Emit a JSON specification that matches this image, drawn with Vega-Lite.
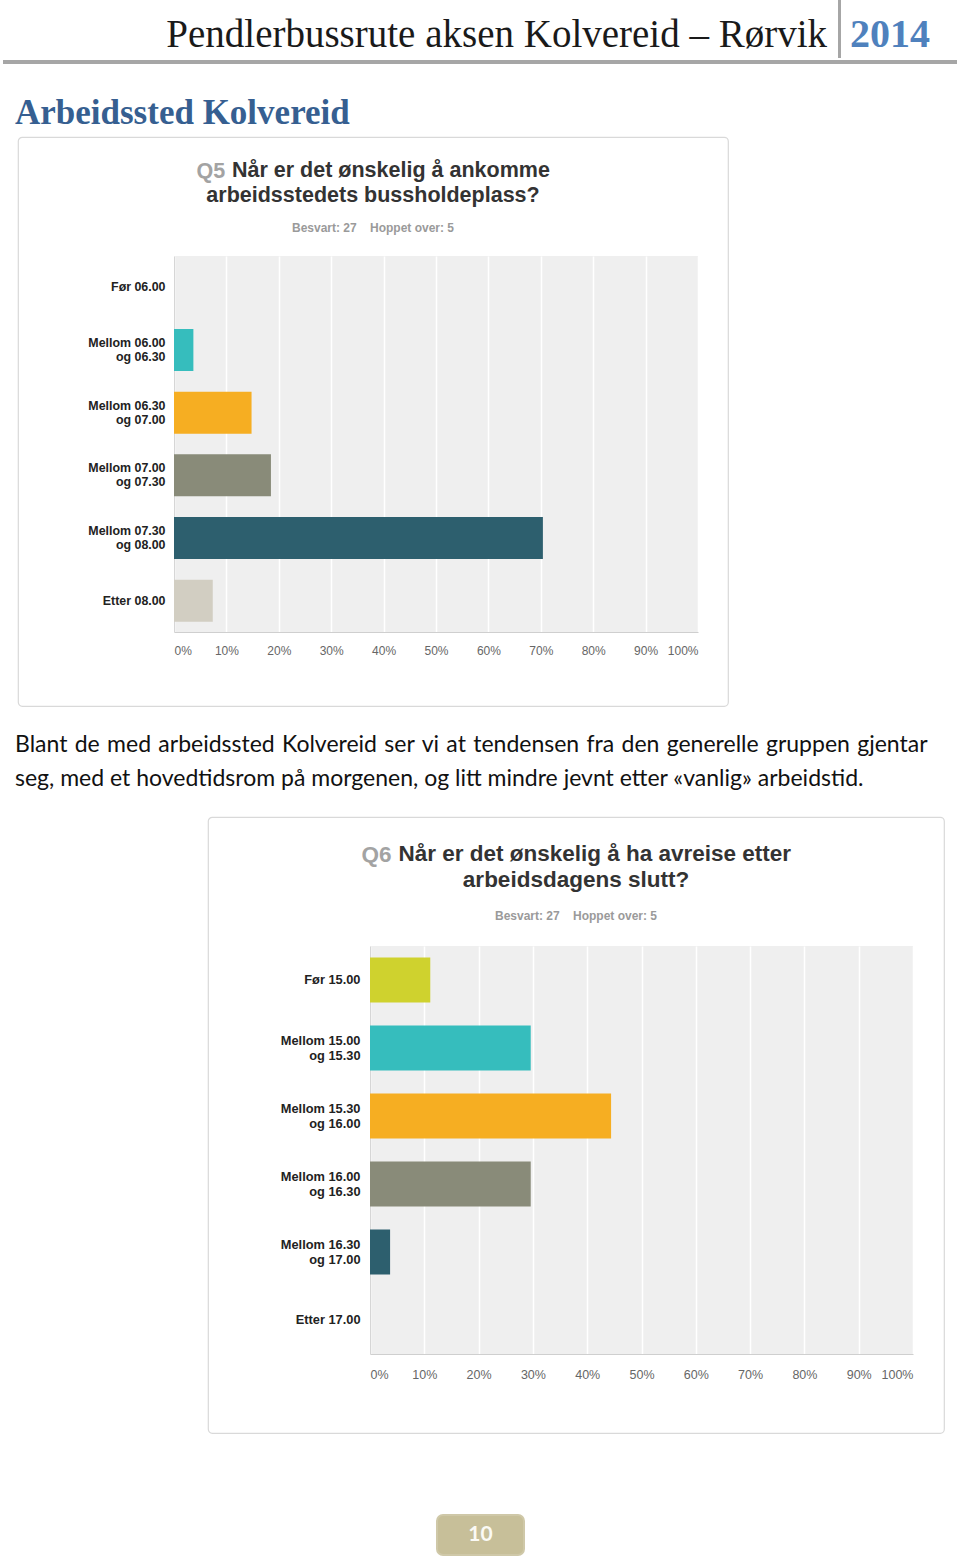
{
  "$schema": "https://vega.github.io/schema/vega-lite/v6.json",
  "background": "white",
  "padding": 0,
  "config": {"view": {"stroke": null}},
  "spacing": 0,
  "bounds": "flush",
  "vconcat": [
    {
      "bounds": "flush", "spacing": 0,
      "hconcat": [
        {
          "width": 838, "height": 60, "data": {"values": []}, "mark": "text",
          "title": {"text": "Pendlerbussrute aksen Kolvereid – Rørvik", "anchor": "end", "frame": "group", "dx": -11, "offset": -55, "font": "Liberation Serif", "fontSize": 39, "fontWeight": "normal", "color": "#1a1a1a"}
        },
        {
          "width": 3, "height": 58, "view": {"fill": "#a6a6a6", "stroke": null}, "data": {"values": []}, "mark": "text",
          "title": {"text": "2014", "anchor": "start", "frame": "group", "dx": 12, "offset": -55, "font": "Liberation Serif", "fontSize": 40, "fontWeight": "bold", "color": "#4f81bd"}
        }
      ]
    },
    {"width": 1, "height": 60, "data": {"values": []}, "mark": "text"},
    {
      "bounds": "flush", "spacing": 0,
      "hconcat": [
        {"width": 3, "height": 4, "data": {"values": []}, "mark": "text"},
        {"width": 954, "height": 4, "view": {"fill": "#a6a6a6", "stroke": null}, "data": {"values": []}, "mark": "text"}
      ]
    },
    {"width": 1, "height": 4, "data": {"values": []}, "mark": "text"},
    {
      "width": 1, "height": 73, "data": {"values": []}, "mark": "text",
      "title": {"text": "Arbeidssted Kolvereid", "anchor": "start", "frame": "group", "dx": 15, "offset": -67, "font": "Liberation Serif", "fontSize": 35, "fontWeight": "bold", "color": "#365f91"}
    },
    {
      "bounds": "flush", "spacing": 0,
      "hconcat": [
        {"width": 18, "height": 569, "data": {"values": []}, "mark": "text"},
        {
          "width": 710, "height": 569,
          "view": {"fill": "#ffffff", "stroke": "#d9d9d9", "strokeWidth": 1.2, "cornerRadius": 4},
          "data": {"values": []}, "mark": "text",
          "title": {"text": "Q5", "anchor": "start", "frame": "group", "dx": 178.5, "offset": -45.2, "font": "Liberation Sans", "fontSize": 21.5, "fontWeight": "bold", "color": "#a3a3a3"}
        }
      ]
    },
    {"width": 1, "height": 119, "data": {"values": []}, "mark": "text"},
    {
      "bounds": "flush", "spacing": 0,
      "hconcat": [
        {"width": 174, "height": 376, "data": {"values": []}, "mark": "text"},
        {
          "width": 524, "height": 376,
          "view": {"fill": "#efefef", "stroke": null},
          "title": {
            "text": ["\u200b\u00a0\u00a0\u00a0\u00a0\u00a0 Når er det ønskelig å ankomme", "arbeidsstedets bussholdeplass?"],
            "subtitle": "Besvart: 27 \u00a0\u00a0 Hoppet over: 5",
            "anchor": "middle", "frame": "group", "dx": -63, "offset": 22,
            "font": "Liberation Sans", "fontSize": 21.5, "lineHeight": 25, "fontWeight": "bold", "color": "#333333",
            "subtitleFont": "Liberation Sans", "subtitleFontSize": 12, "subtitleFontWeight": "bold", "subtitleColor": "#9a9a9a", "subtitlePadding": 17
          },
          "data": {"values": [
            {"svar": "Før 06.00", "prosent": 0},
            {"svar": "Mellom 06.00 og 06.30", "prosent": 3.7},
            {"svar": "Mellom 06.30 og 07.00", "prosent": 14.8},
            {"svar": "Mellom 07.00 og 07.30", "prosent": 18.5},
            {"svar": "Mellom 07.30 og 08.00", "prosent": 70.4},
            {"svar": "Etter 08.00", "prosent": 7.4}
          ]},
          "mark": {"type": "bar"},
          "encoding": {
            "y": {
              "field": "svar", "type": "nominal", "sort": null,
              "scale": {"paddingInner": 0.33, "paddingOuter": 0.165},
              "axis": {"title": null, "ticks": false, "domain": true, "domainColor": "#d6d6d6", "grid": false,
                "labelFont": "Liberation Sans", "labelFontWeight": "bold", "labelFontSize": 12.4, "labelColor": "#222222",
                "labelPadding": 9, "labelLineHeight": 14,
                "labelBaseline": {"condition": {"test": "slice(datum.value,0,6)=='Mellom'", "value": "bottom"}, "value": "middle"},
                "labelExpr": "slice(datum.value,0,6)=='Mellom' ? [slice(datum.value,0,12), slice(datum.value,13)] : datum.value"}
            },
            "x": {
              "field": "prosent", "type": "quantitative",
              "scale": {"domain": [0, 100]},
              "axis": {"title": null, "values": [0,10,20,30,40,50,60,70,80,90,100], "labelExpr": "datum.value + '%'",
                "ticks": false, "grid": true, "gridColor": "#ffffff", "gridWidth": 1.5, "gridOpacity": 1,
                "domainColor": "#cfcfcf", "labelFont": "Liberation Sans", "labelFontSize": 12, "labelColor": "#666666",
                "labelPadding": 13, "labelFlush": true}
            },
            "color": {
              "field": "svar", "type": "nominal", "legend": null,
              "scale": {
                "domain": ["Før 06.00", "Mellom 06.00 og 06.30", "Mellom 06.30 og 07.00", "Mellom 07.00 og 07.30", "Mellom 07.30 og 08.00", "Etter 08.00"],
                "range": ["#cfd22e", "#36bdbd", "#f6ae22", "#898b79", "#2d5f6e", "#d2cec2"]
              }
            }
          }
        }
      ]
    },
    {"width": 1, "height": 376, "data": {"values": []}, "mark": "text"},
    {
      "width": 1, "height": 185, "data": {"values": []}, "mark": "text",
      "title": {"text": ["Blant \u200ade \u200amed \u200aarbeidssted \u200aKolvereid \u200aser \u200avi \u200aat \u200atendensen \u200afra \u200aden \u200agenerelle \u200agruppen \u200agjentar", "seg, med et hovedtidsrom på morgenen, og litt mindre jevnt etter «vanlig» arbeidstid."], "anchor": "start", "frame": "group", "align": "left", "dx": 15, "offset": -159, "font": "Lato", "fontSize": 23, "lineHeight": 34, "fontWeight": "normal", "color": "#111111"}
    },
    {
      "bounds": "flush", "spacing": 0,
      "hconcat": [
        {"width": 208, "height": 616, "data": {"values": []}, "mark": "text"},
        {
          "width": 736, "height": 616,
          "view": {"fill": "#ffffff", "stroke": "#d9d9d9", "strokeWidth": 1.2, "cornerRadius": 4},
          "data": {"values": []}, "mark": "text",
          "title": {"text": "Q6", "anchor": "start", "frame": "group", "dx": 153.4, "offset": -49.7, "font": "Liberation Sans", "fontSize": 22.5, "fontWeight": "bold", "color": "#a3a3a3"}
        }
      ]
    },
    {"width": 1, "height": 129, "data": {"values": []}, "mark": "text"},
    {
      "bounds": "flush", "spacing": 0,
      "hconcat": [
        {"width": 370, "height": 408, "data": {"values": []}, "mark": "text"},
        {
          "width": 543, "height": 408,
          "view": {"fill": "#efefef", "stroke": null},
          "title": {
            "text": ["\u200b\u00a0\u00a0\u00a0\u00a0\u00a0 Når er det ønskelig å ha avreise etter", "arbeidsdagens slutt?"],
            "subtitle": "Besvart: 27 \u00a0\u00a0 Hoppet over: 5",
            "anchor": "middle", "frame": "group", "dx": -65.5, "offset": 24,
            "font": "Liberation Sans", "fontSize": 22.5, "lineHeight": 25.5, "fontWeight": "bold", "color": "#333333",
            "subtitleFont": "Liberation Sans", "subtitleFontSize": 12, "subtitleFontWeight": "bold", "subtitleColor": "#9a9a9a", "subtitlePadding": 20
          },
          "data": {"values": [
            {"svar": "Før 15.00", "prosent": 11.1},
            {"svar": "Mellom 15.00 og 15.30", "prosent": 29.6},
            {"svar": "Mellom 15.30 og 16.00", "prosent": 44.4},
            {"svar": "Mellom 16.00 og 16.30", "prosent": 29.6},
            {"svar": "Mellom 16.30 og 17.00", "prosent": 3.7},
            {"svar": "Etter 17.00", "prosent": 0}
          ]},
          "mark": {"type": "bar"},
          "encoding": {
            "y": {
              "field": "svar", "type": "nominal", "sort": null,
              "scale": {"paddingInner": 0.34, "paddingOuter": 0.17},
              "axis": {"title": null, "ticks": false, "domain": true, "domainColor": "#d6d6d6", "grid": false,
                "labelFont": "Liberation Sans", "labelFontWeight": "bold", "labelFontSize": 12.8, "labelColor": "#222222",
                "labelPadding": 10, "labelLineHeight": 15,
                "labelBaseline": {"condition": {"test": "slice(datum.value,0,6)=='Mellom'", "value": "bottom"}, "value": "middle"},
                "labelExpr": "slice(datum.value,0,6)=='Mellom' ? [slice(datum.value,0,12), slice(datum.value,13)] : datum.value"}
            },
            "x": {
              "field": "prosent", "type": "quantitative",
              "scale": {"domain": [0, 100]},
              "axis": {"title": null, "values": [0,10,20,30,40,50,60,70,80,90,100], "labelExpr": "datum.value + '%'",
                "ticks": false, "grid": true, "gridColor": "#ffffff", "gridWidth": 1.5, "gridOpacity": 1,
                "domainColor": "#cfcfcf", "labelFont": "Liberation Sans", "labelFontSize": 12.5, "labelColor": "#666666",
                "labelPadding": 14, "labelFlush": true}
            },
            "color": {
              "field": "svar", "type": "nominal", "legend": null,
              "scale": {
                "domain": ["Før 15.00", "Mellom 15.00 og 15.30", "Mellom 15.30 og 16.00", "Mellom 16.00 og 16.30", "Mellom 16.30 og 17.00", "Etter 17.00"],
                "range": ["#cfd22e", "#36bdbd", "#f6ae22", "#898b79", "#2d5f6e", "#d2cec2"]
              }
            }
          }
        }
      ]
    },
    {"width": 1, "height": 408, "data": {"values": []}, "mark": "text"},
    {"width": 1, "height": 161, "data": {"values": []}, "mark": "text"},
    {
      "bounds": "flush", "spacing": 0,
      "hconcat": [
        {"width": 437, "height": 40, "data": {"values": []}, "mark": "text"},
        {
          "width": 87, "height": 40,
          "view": {"fill": "#c7bf99", "stroke": "#cfc8a8", "strokeWidth": 2, "cornerRadius": 6},
          "data": {"values": [{"side": "10"}]},
          "mark": {"type": "text", "font": "Lato", "fontSize": 21, "fontWeight": "bold", "color": "#fbfaf5", "baseline": "middle", "align": "center"},
          "encoding": {"text": {"field": "side"}}
        }
      ]
    },
    {"width": 1, "height": 40, "data": {"values": []}, "mark": "text"}
  ]
}
